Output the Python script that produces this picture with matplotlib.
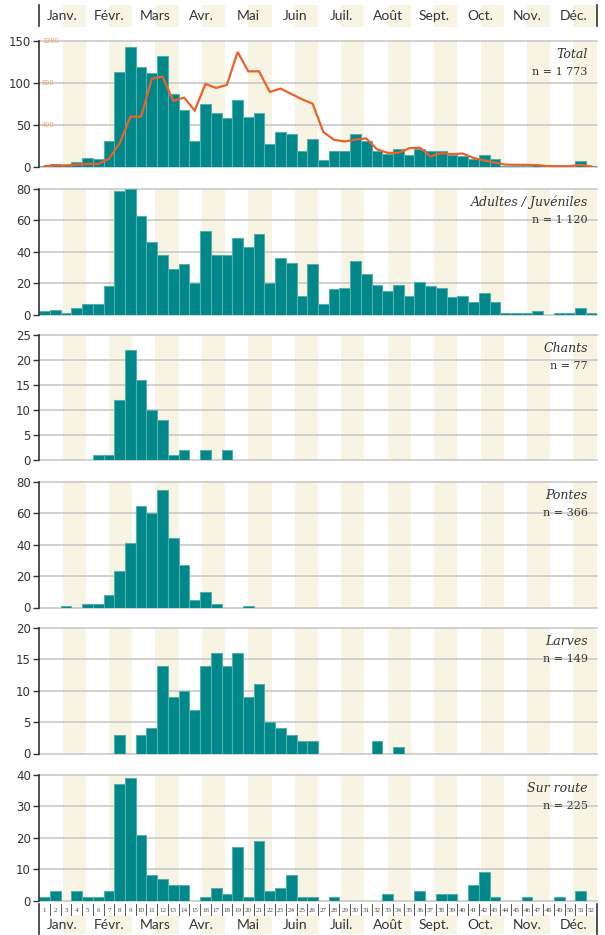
import matplotlib
matplotlib.use("Agg")
import matplotlib.pyplot as plt
import numpy as np

# ---------------------------------------------------------------- data
months = ["Janv.", "Févr.", "Mars", "Avr.", "Mai", "Juin",
          "Juil.", "Août", "Sept.", "Oct.", "Nov.", "Déc."]
weeks = np.arange(1, 53)

total = [1, 3, 2, 5, 10, 9, 30, 113, 143, 119, 112, 132, 87, 68, 31, 75,
         64, 58, 80, 59, 64, 27, 41, 39, 19, 33, 8, 18, 18, 39, 30, 19,
         15, 21, 14, 21, 18, 18, 14, 12, 9, 14, 9, 1, 1, 1, 2, 0, 1, 1, 6, 1]

total_line = [3, 10, 10, 19, 25, 25, 73, 223, 477, 477, 840, 859, 627, 659,
              535, 789, 751, 780, 1095, 910, 910, 713, 745, 694, 643, 600,
              330, 255, 239, 258, 268, 165, 130, 130, 174, 180, 97, 127, 118,
              124, 82, 58, 37, 18, 16, 16, 13, 3, 3, 3, 16, 0]

adultes = [2, 3, 1, 4, 7, 7, 18, 79, 80, 63, 46, 38, 29, 32, 20, 53, 38, 38,
           49, 43, 51, 20, 36, 33, 12, 32, 7, 16, 17, 34, 26, 19, 15, 19, 12,
           21, 18, 17, 11, 12, 8, 14, 8, 1, 1, 1, 2, 0, 1, 1, 4, 1]

chants = [0, 0, 0, 0, 0, 1, 1, 12, 22, 16, 10, 8, 1, 2, 0, 2, 0, 2] + [0] * 34

pontes = [0, 0, 1, 0, 2, 2, 8, 23, 41, 65, 60, 75, 44, 27, 5, 10, 2, 0, 0,
          1] + [0] * 32

larves = [0, 0, 0, 0, 0, 0, 0, 3, 0, 3, 4, 14, 9, 10, 7, 14, 16, 14, 16, 9,
          11, 5, 4, 3, 2, 2, 0, 0, 0, 0, 0, 2, 0, 1] + [0] * 18

sur_route = [1, 3, 0, 3, 1, 1, 3, 37, 39, 21, 8, 7, 5, 5, 0, 1, 4, 2, 17, 1,
             19, 3, 4, 8, 1, 1, 0, 1, 0, 0, 0, 0, 2, 0, 0, 3, 0, 2, 2, 0, 5,
             9, 1, 0, 0, 1, 0, 0, 1, 0, 3, 0]

panel_titles = ["Total", "Adultes / Juvéniles", "Chants", "Pontes",
                "Larves", "Sur route"]
panel_counts = ["n = 1 773", "n = 1 120", "n = 77", "n = 366",
                "n = 149", "n = 225"]
panel_series = [total, adultes, chants, pontes, larves, sur_route]
panel_ymax = [150, 80, 25, 80, 20, 40]
panel_ystep = [50, 20, 5, 20, 5, 10]
line_ticks = [400, 800, 1200]

# ---------------------------------------------------------------- style
BAR = "#00878a"
BAR_EDGE = "#55aeac"
BEIGE = "#f8f4e4"
GRID = "#c9c9c9"
TEXT = "#333333"
ORANGE = "#ea6229"
ORANGE_LIGHT = "#f09a6c"

W_PX, H_PX = 605, 935
LEFT_PX, RIGHT_PX = 39.3, 596.7
PANEL_TOPS = [41, 189, 335, 482, 628, 775]
PANEL_H = 125.5
MW = 52 / 12  # month width in weeks

fig = plt.figure(figsize=(W_PX / 100, H_PX / 100), dpi=100)
fig.patch.set_facecolor("white")

left = LEFT_PX / W_PX
width = (RIGHT_PX - LEFT_PX) / W_PX


def month_bands(ax, y0=None, y1=None):
    for m in range(12):
        x0 = m * MW + MW / 2
        x1 = (m + 1) * MW
        if y0 is None:
            ax.axvspan(x0, x1, color=BEIGE, lw=0, zorder=0)
        else:
            ax.fill_between([x0, x1], y0, y1, color=BEIGE, lw=0, zorder=0)


# ---------------------------------------------------------------- header
hdr = fig.add_axes([left, 1 - 27 / H_PX, width, 22 / H_PX])
hdr.set_xlim(0, 52)
hdr.set_ylim(27, 5)
hdr.axis("off")
month_bands(hdr, 5, 27)
for xb in (0, 52):
    hdr.plot([xb, xb], [5, 26], color=TEXT, lw=1.2, clip_on=False)
for m, name in enumerate(months):
    hdr.text(m * MW + MW / 2, 15.5, name, ha="center", va="center",
             fontsize=10, family="Lato", color=TEXT)

# ---------------------------------------------------------------- panels
for i in range(6):
    top = PANEL_TOPS[i]
    ax = fig.add_axes([left, 1 - (top + PANEL_H) / H_PX, width,
                       PANEL_H / H_PX])
    ymax = panel_ymax[i]
    ax.set_xlim(0, 52)
    ax.set_ylim(0, ymax)
    month_bands(ax)
    ticks = np.arange(0, ymax + 0.1, panel_ystep[i])
    for t in ticks:
        ax.axhline(t, color=GRID, lw=1.2, zorder=1, clip_on=False)

    vals = np.array(panel_series[i], dtype=float)
    keep = vals > 0
    ax.bar(weeks[keep] - 0.5, vals[keep], width=1.0, color=BAR,
           edgecolor=BAR_EDGE, linewidth=0.8, zorder=3)

    ax.set_yticks(ticks)
    ax.set_yticklabels([f"{int(t)}" for t in ticks])
    ax.tick_params(axis="y", length=4, width=1.0, color=TEXT,
                   labelsize=8.5, labelcolor=TEXT, pad=2)
    ax.set_xticks([])
    for s in ("top", "right", "bottom"):
        ax.spines[s].set_visible(False)
    ax.spines["left"].set_color(TEXT)
    ax.spines["left"].set_linewidth(1.2)
    ax.spines["left"].set_zorder(5)

    ax.text(0.984, 1 - 13.5 / PANEL_H, panel_titles[i], transform=ax.transAxes,
            ha="right", va="center", fontsize=9, style="italic",
            family="DejaVu Serif", color=TEXT, zorder=6)
    ax.text(0.984, 1 - 31 / PANEL_H, panel_counts[i], transform=ax.transAxes,
            ha="right", va="center", fontsize=8, family="DejaVu Serif",
            color=TEXT, zorder=6)

    if i == 0:
        ax2 = ax.twinx()
        ax2.set_ylim(0, 1200)
        ax2.set_xlim(0, 52)
        ax2.axis("off")
        ax2.plot(weeks - 0.5, total_line, color=ORANGE, lw=1.6, zorder=4,
                 solid_joinstyle="miter")
        for t in line_ticks:
            ax2.text(0.25, t, str(t), ha="left", va="center", fontsize=4.8,
                     color=ORANGE_LIGHT)

# ---------------------------------------------------------------- footer
ftr = fig.add_axes([left, 0, width, 32 / H_PX])
ftr.set_xlim(0, 52)
ftr.set_ylim(935, 903)
ftr.axis("off")
month_bands(ftr, 915, 934)
for xb in range(1, 52):
    ftr.plot([xb, xb], [904, 915], color="#555555", lw=0.7, clip_on=False)
for xb in (0, 52):
    ftr.plot([xb, xb], [904, 934], color=TEXT, lw=1.2, clip_on=False)
for w in weeks:
    ftr.text(w - 0.5, 910, str(w), ha="center", va="center", fontsize=5,
             family="Liberation Serif", color="#444444")
for m, name in enumerate(months):
    ftr.text(m * MW + MW / 2, 925, name, ha="center", va="center",
             fontsize=10, family="Lato", color=TEXT)

fig.savefig("out.png", dpi=100, facecolor="white")
